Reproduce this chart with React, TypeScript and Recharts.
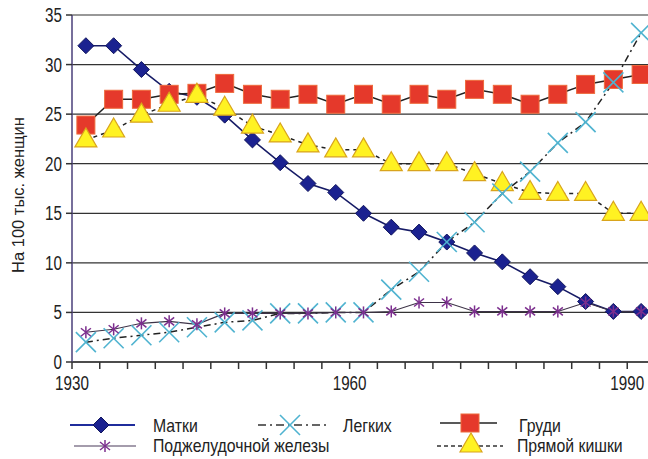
import { LineChart, Line, XAxis, YAxis, CartesianGrid } from 'recharts';

// середины трёхлетних интервалов
const YEARS = [
  1931.5, 1934.5, 1937.5, 1940.5, 1943.5, 1946.5, 1949.5, 1952.5, 1955.5, 1958.5, 1961.5,
  1964.5, 1967.5, 1970.5, 1973.5, 1976.5, 1979.5, 1982.5, 1985.5, 1988.5, 1991.5,
];

const MATKI = [31.9, 31.9, 29.5, 27.3, 26.7, 24.9, 22.4, 20.1, 18.0, 17.1, 15.0, 13.6, 13.1, 12.1, 11.0, 10.1, 8.6, 7.6, 6.1, 5.1, 5.1];
const LEGKIH = [2.0, 2.4, 2.7, 3.0, 3.5, 4.0, 4.2, 4.9, 4.9, 5.0, 5.0, 7.3, 9.1, 12.1, 14.1, 17.0, 19.2, 22.1, 24.2, 28.2, 33.2];
const GRUDI = [23.9, 26.5, 26.5, 27.0, 27.1, 28.1, 27.0, 26.5, 27.0, 26.0, 27.0, 26.0, 27.0, 26.5, 27.5, 27.0, 26.0, 27.0, 28.0, 28.5, 29.0];
const PODZH = [3.0, 3.3, 3.9, 4.1, 3.8, 4.9, 4.9, 4.9, 4.9, 5.0, 5.0, 5.1, 6.0, 6.0, 5.1, 5.1, 5.1, 5.1, 6.0, 5.1, 5.1];
const PRYAMOY = [22.4, 23.4, 24.9, 26.0, 26.9, 25.6, 23.8, 22.9, 21.9, 21.4, 21.4, 20.0, 20.0, 20.0, 19.0, 18.0, 17.1, 17.0, 17.0, 15.0, 15.0];

const X_TICKS = [1930, 1933, 1936, 1939, 1942, 1945, 1948, 1951, 1954, 1957, 1960, 1963, 1966, 1969, 1972, 1975, 1978, 1981, 1984, 1987, 1990];
const X_LABELS = [1930, 1960, 1990];
const Y_TICKS = [0, 5, 10, 15, 20, 25, 30, 35];

const data = YEARS.map((year, i) => ({
  year,
  matki: MATKI[i],
  legkih: LEGKIH[i],
  grudi: GRUDI[i],
  podzh: PODZH[i],
  pryamoy: PRYAMOY[i],
}));

const SANS = '"Liberation Sans", Arial, sans-serif';

// узкий шрифт (Arial Narrow) имитируем сжатием по горизонтали
const NText = ({ x, y, size = 19.5, sx = 0.78, anchor = 'start', children }: any) => (
  <text
    transform={`translate(${x},${y}) scale(${sx},1)`}
    textAnchor={anchor}
    fontFamily={SANS}
    fontSize={size}
    fill="#222"
  >
    {children}
  </text>
);

const Diamond = ({ cx, cy }: { cx: number; cy: number }) => (
  <polygon
    points={`${cx},${cy - 8} ${cx + 8},${cy} ${cx},${cy + 8} ${cx - 8},${cy}`}
    fill="#1b2290"
    stroke="#11165e"
    strokeWidth={1}
  />
);

const Square = ({ cx, cy }: { cx: number; cy: number }) => (
  <rect x={cx - 9} y={cy - 9} width={18} height={18} fill="#e5392b" stroke="#ee6a3c" strokeWidth={1} />
);

const Triangle = ({ cx, cy }: { cx: number; cy: number }) => (
  <polygon
    points={`${cx},${cy - 12} ${cx + 11},${cy + 7} ${cx - 11},${cy + 7}`}
    fill="#fff222"
    stroke="#d9a41c"
    strokeWidth={1.2}
  />
);

const Cross = ({ cx, cy }: { cx: number; cy: number }) => (
  <g stroke="#4fb3d0" strokeWidth={1.6}>
    <line x1={cx - 10} y1={cy - 10} x2={cx + 10} y2={cy + 10} />
    <line x1={cx - 10} y1={cy + 10} x2={cx + 10} y2={cy - 10} />
  </g>
);

const Star = ({ cx, cy }: { cx: number; cy: number }) => (
  <g stroke="#7c2f8e" strokeWidth={1.5}>
    <line x1={cx} y1={cy - 6} x2={cx} y2={cy + 6} />
    <line x1={cx - 5} y1={cy - 4} x2={cx + 5} y2={cy + 4} />
    <line x1={cx - 5} y1={cy + 4} x2={cx + 5} y2={cy - 4} />
  </g>
);

const dot = (Shape: any) => (props: any) => <Shape key={props.index} cx={props.cx} cy={props.cy} />;

const XTick = (props: any) => {
  const { x, y, payload } = props;
  if (!X_LABELS.includes(payload.value)) return <g />;
  return <NText x={x} y={y + 19} anchor="middle">{payload.value}</NText>;
};

const YTick = (props: any) => {
  const { x, y, payload } = props;
  return <NText x={x} y={y + 7} anchor="end">{payload.value}</NText>;
};

function ChartLegend() {
  const r1 = 425;
  const r2 = 446;
  const t1 = 432;
  const t2 = 452;
  return (
    <svg width={648} height={459} style={{ position: 'absolute', left: 0, top: 0, pointerEvents: 'none' }}>
      <line x1={70} y1={r1} x2={135} y2={r1} stroke="#1f2c9c" strokeWidth={2} />
      <Diamond cx={101} cy={r1} />
      <NText x={153} y={t1} size={18} sx={0.88}>Матки</NText>

      <line x1={258} y1={r1} x2={330} y2={r1} stroke="#333" strokeWidth={1.5} strokeDasharray="8 4 2 4" />
      <Cross cx={290} cy={r1} />
      <NText x={343} y={t1} size={18} sx={0.88}>Легких</NText>

      <line x1={440} y1={r1 - 2} x2={497} y2={r1 - 2} stroke="#222" strokeWidth={1.5} />
      <Square cx={470} cy={r1 - 2} />
      <NText x={519} y={t1} size={18} sx={0.88}>Груди</NText>

      <line x1={74} y1={r2} x2={136} y2={r2} stroke="#4a3a5a" strokeWidth={1.2} />
      <Star cx={105} cy={r2} />
      <NText x={153} y={t2} size={18} sx={0.88}>Поджелудочной железы</NText>

      <line x1={437} y1={r2} x2={503} y2={r2} stroke="#333" strokeWidth={1.5} strokeDasharray="4 3" />
      <Triangle cx={471} cy={r2 - 1} />
      <NText x={517} y={t2} size={18} sx={0.88}>Прямой кишки</NText>
    </svg>
  );
}

export default function App() {
  return (
    <div style={{ position: 'absolute', left: 0, top: 0, width: 648, height: 459, overflow: 'hidden', background: '#fff' }}>
      <LineChart width={660} height={400} data={data} margin={{ top: 15, right: 5, bottom: 0, left: 0 }}>
        <CartesianGrid horizontal vertical={false} stroke="#333" strokeWidth={1.2} />
        <XAxis
          dataKey="year"
          type="number"
          domain={[1930, 1993]}
          ticks={X_TICKS}
          interval={0}
          height={38}
          tick={<XTick />}
          tickSize={7}
          tickLine={{ stroke: '#333', strokeWidth: 1.5 }}
          axisLine={{ stroke: '#333', strokeWidth: 1.5 }}
        />
        <YAxis
          type="number"
          domain={[0, 35]}
          ticks={Y_TICKS}
          interval={0}
          width={72}
          tick={<YTick />}
          tickSize={6}
          tickMargin={4}
          tickLine={{ stroke: '#333', strokeWidth: 1.5 }}
          axisLine={{ stroke: '#4a3f7a', strokeWidth: 1.5 }}
          label={{
            content: () => (
              <text
                x={18}
                y={195}
                transform="rotate(-90, 18, 195)"
                textAnchor="middle"
                dominantBaseline="central"
                fontFamily={SANS}
                fontSize={16.5}
                fill="#222"
              >
                На 100 тыс. женщин
              </text>
            ),
          }}
        />
        <Line dataKey="matki" stroke="#161b66" strokeWidth={1.6} dot={dot(Diamond)} isAnimationActive={false} />
        <Line dataKey="grudi" stroke="#222" strokeWidth={1.5} dot={dot(Square)} isAnimationActive={false} />
        <Line dataKey="pryamoy" stroke="#222" strokeWidth={1.5} strokeDasharray="4 4" dot={dot(Triangle)} isAnimationActive={false} />
        <Line dataKey="legkih" stroke="#222" strokeWidth={1.5} strokeDasharray="7 4 2 4" dot={dot(Cross)} isAnimationActive={false} />
        <Line dataKey="podzh" stroke="#3d3347" strokeWidth={1.1} dot={dot(Star)} isAnimationActive={false} />
      </LineChart>
      <ChartLegend />
    </div>
  );
}
